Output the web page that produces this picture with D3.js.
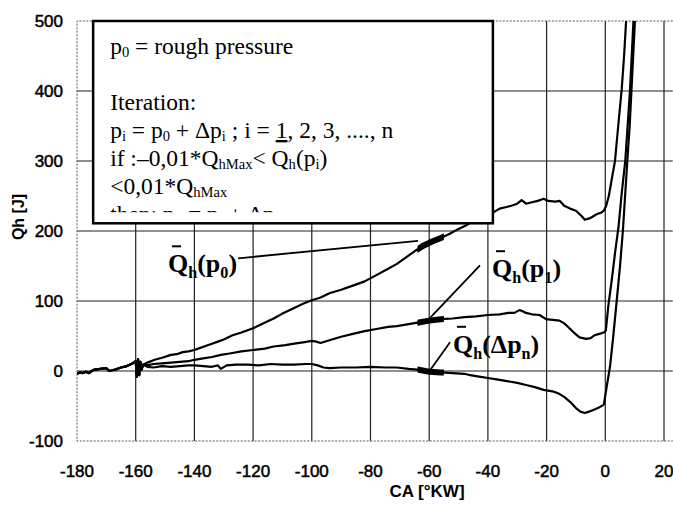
<!DOCTYPE html>
<html>
<head>
<meta charset="utf-8">
<script src="https://cdnjs.cloudflare.com/ajax/libs/d3/7.8.5/d3.min.js"></script>
<style>
body { margin: 0; background: #fff; }
</style>
</head>
<body>
<svg id="viz"></svg>
<script>
var width = 673;
var height = 505;

var xTicks = [-180, -160, -140, -120, -100, -80, -60, -40, -20, 0, 20];
var yTicks = [-100, 0, 100, 200, 300, 400, 500];

// all three curves share the noisy start up to about -157 deg
var startCa = [-180, -179, -178, -177, -176, -175, -174, -172, -170, -169, -168, -167, -165, -163, -161, -160, -159.6, -159.2, -158.8, -158.4, -158, -157.5];
var startQ  = [-4, -2, -3, -1, -3, 0, 2, 3, 4, 0, 1, 2, 5, 7, 11, 14, -8, 17, -6, 13, 2, 9];

// Qh(p0)
var caP0 = [-156, -153.5, -151, -148, -146, -144, -142, -140, -138, -136, -134, -132, -130, -127, -124, -120, -117, -113, -110, -106, -103, -100, -97, -94, -90, -86, -82, -78, -74, -71, -68, -65, -62, -59, -56, -53, -50, -47, -45, -42, -40, -38, -36, -34, -32, -30, -28.5, -27, -25, -23, -21, -19.5, -17, -15.5, -14, -12, -10, -8, -7, -5.5, -4.5, -3, -1.5, -0.5, 0.3, 1.2, 2.2, 3.3, 4.4, 5.6, 6.4, 7.1, 8];
var qP0  = [12, 16, 19, 23, 24, 27, 28, 30, 33, 36, 39, 42, 45, 51, 55, 61, 67, 75, 82, 90, 96, 101, 105, 111, 116, 122, 128, 137, 146, 153, 162, 171, 179, 185, 190, 196, 203, 209, 215, 219, 222, 227, 232, 234, 236, 239, 244, 239, 241, 243, 246, 243, 242, 243, 236, 232, 229, 221, 216, 218, 220, 224, 226, 229, 236, 250, 274, 300, 350, 403, 450, 501, 560];

// Qh(p1)
var caP1 = [-156, -154, -151, -148, -145, -142, -140, -137, -134, -131, -128, -124, -120, -116, -113, -109, -106, -103, -100, -98.5, -97, -94, -90, -86, -82, -78, -74, -71, -67, -64, -60, -56, -52, -48, -44, -40, -36, -33, -31, -29.2, -28, -27, -25, -22.4, -20.2, -18, -15.6, -14, -12.2, -10.5, -8.8, -6.5, -5, -3.7, -2, -0.5, 0.2, 1, 2.2, 3.3, 4.5, 5.6, 6.8, 7.6, 8.4, 9, 9.6, 10.4];
var qP1  = [8, 10, 11, 12, 13, 14, 16, 18, 20, 23, 25, 28, 30, 32, 35, 37, 39, 41, 43, 42, 40, 44, 49, 53, 57, 60, 63, 64, 67, 69, 72, 74, 75, 77, 78, 80, 81, 83, 83, 87, 85, 83, 81, 80, 74, 73, 72, 68, 61, 54, 48, 46, 47, 51, 53, 55, 58, 92, 130, 168, 206, 254, 300, 350, 400, 450, 500, 560];

// Qh(dp_n)
var caPn = [-156, -154, -151, -148, -145, -142, -140, -137, -134, -132, -131, -129, -126, -122, -118, -114, -110, -106, -102, -100, -98, -96, -94, -90, -85, -80, -75, -71, -67, -64, -60, -56, -52, -48, -46, -43, -40, -37, -34, -30, -27, -24, -21, -18, -16, -14, -12, -10, -8.5, -7, -5.5, -4.3, -2.5, -0.5, 0.5, 1.6, 2.7, 3.9, 5, 6, 7.5, 8.3, 8.9, 9.5, 10.1, 10.8];
var qPn  = [6, 5, 7, 6, 7, 8, 8, 7, 6, 8, 3, 8, 9, 9, 8, 10, 9, 9, 10, 10, 8, 5, 4, 5, 5, 6, 5, 5, 3, 2, -1, -2, -3, -4, -6, -8, -10, -12, -14, -17, -20, -23, -27, -29, -32, -37, -44, -53, -58, -60, -58, -56, -53, -48, -22, 6, 49, 101, 149, 201, 300, 350, 400, 450, 500, 560];

// thick marks on the curves around -60 deg
var markFrom = -64, markTo = -55;

// annotation labels: [parts, ca, q]; pointer lines: [ca1, q1, ca2, q2]
var labelParts = [
    [["Q"], ["h", 1], ["(p"], ["0", 1], [")"]],
    [["Q"], ["h", 1], ["(p"], ["1", 1], [")"]],
    [["Q"], ["h", 1], ["(\u0394p"], ["n", 1], [")"]]
];
var labelCa = [-149, -38.6, -51.9];
var labelQ = [141, 134, 26];
var pointers = [
    [-125.1, 161, -63.8, 186],
    [-42.7, 151, -59.7, 76],
    [-52.9, 41, -59.7, 1]
];

// text box
var boxLines = [
    [["p"], ["0", 1], [" = rough pressure"]],
    [],
    [["Iteration:"]],
    [["p"], ["i", 1], [" = p"], ["0", 1], [" + \u0394p"], ["i", 1], [" ; i = "], ["1", 0, 1], [", 2, 3, ...., n"]],
    [["if :\u20130,01*Q"], ["hMax", 1], ["< Q"], ["h", 1], ["(p"], ["i", 1], [")"]],
    [["<0,01*Q"], ["hMax", 1]],
    [["then: p"], ["n", 1], [" = p"], ["i", 1], [" + \u0394p"], ["i", 1]]
];

var svg = d3.select("#viz").attr("width", width).attr("height", height)
    .style("font-family", "'Liberation Sans', Arial, sans-serif");

var x = d3.scaleLinear().domain([-180, 20]).range([77, 664]);
var y = d3.scaleLinear().domain([-100, 500]).range([441, 21]);
var xEnd = 23;   // plot area runs a little past the last tick

// rich text with subscripts
function richText(sel, px, py, parts, size, weight, drop) {
    var t = sel.append("text").attr("x", px).attr("y", py)
        .attr("font-size", size).attr("font-weight", weight || "normal");
    var shift = 0;
    parts.forEach(function(p) {
        var s = t.append("tspan").text(p[0]);
        var want = p[1] ? size * drop : 0;
        if (want != shift) { s.attr("dy", want - shift); shift = want; }
        if (p[1]) s.attr("font-size", size * 0.62);
        if (p[2]) s.attr("text-decoration", "underline");
    });
    return t;
}

// grid
var grid = svg.append("g");
grid.selectAll("line.v").data(xTicks.slice(1)).enter().append("line")
    .attr("x1", function(d) { return x(d); }).attr("x2", function(d) { return x(d); })
    .attr("y1", y(500)).attr("y2", y(-100))
    .attr("stroke", "#222").attr("stroke-width", 1.2);
grid.selectAll("line.h").data(yTicks.slice(1, -1)).enter().append("line")
    .attr("x1", x(-180)).attr("x2", x(xEnd))
    .attr("y1", function(d) { return y(d); }).attr("y2", function(d) { return y(d); })
    .attr("stroke", "#222").attr("stroke-width", 1.2);
// dotted frame
grid.append("path")
    .attr("d", "M" + x(xEnd) + "," + y(500) + "H" + x(-180) + "V" + y(-100) + "H" + x(xEnd))
    .attr("fill", "none").attr("stroke", "#555").attr("stroke-dasharray", "2,1.5");

// tick labels
svg.append("g").selectAll("text").data(yTicks).enter().append("text")
    .attr("x", 63).attr("y", function(d) { return y(d); }).attr("dy", "0.36em")
    .attr("text-anchor", "end").attr("font-size", 17)
    .attr("stroke", "#000").attr("stroke-width", 0.5)
    .text(function(d) { return d; });
svg.append("g").selectAll("text").data(xTicks).enter().append("text")
    .attr("x", function(d) { return x(d); }).attr("y", 477)
    .attr("text-anchor", "middle").attr("font-size", 17)
    .attr("stroke", "#000").attr("stroke-width", 0.5)
    .text(function(d) { return d; });

svg.append("text").attr("x", 427).attr("y", 497).attr("text-anchor", "middle")
    .attr("font-size", 17).attr("font-weight", "bold").text("CA [\u00b0KW]");
svg.append("text").attr("transform", "translate(24,217) rotate(-90)")
    .attr("text-anchor", "middle").attr("font-size", 16).attr("font-weight", "bold")
    .text("Qh [J]");

// curves
function series(ca, q) {
    var qs = startQ.concat(q);
    return startCa.concat(ca).map(function(d, i) { return [d, qs[i]]; });
}
var curves = [series(caP0, qP0), series(caP1, qP1), series(caPn, qPn)];

var defs = svg.append("defs");
defs.append("clipPath").attr("id", "plotClip").append("rect")
    .attr("x", x(-180)).attr("y", y(500)).attr("width", x(xEnd) - x(-180)).attr("height", y(-100) - y(500));
defs.append("clipPath").attr("id", "markClip").append("rect")
    .attr("x", x(markFrom)).attr("y", 0).attr("width", x(markTo) - x(markFrom)).attr("height", height);

var line = d3.line().x(function(d) { return x(d[0]); }).y(function(d) { return y(d[1]); });

svg.append("g").attr("clip-path", "url(#plotClip)")
    .selectAll("path").data(curves).enter().append("path")
    .attr("d", line).attr("fill", "none").attr("stroke", "#000")
    .attr("stroke-width", 2.2).attr("stroke-linejoin", "round");
svg.append("g").attr("clip-path", "url(#markClip)")
    .selectAll("path").data(curves).enter().append("path")
    .attr("d", line).attr("fill", "none").attr("stroke", "#000").attr("stroke-width", 6);

// text box
var boxL = -174.5, boxR = -38.3, boxB = 211;
svg.append("rect").attr("x", x(boxL)).attr("y", y(500))
    .attr("width", x(boxR) - x(boxL)).attr("height", y(boxB) - y(500))
    .attr("fill", "#fff").attr("stroke", "#000").attr("stroke-width", 2.5);
defs.append("clipPath").attr("id", "boxClip").append("rect")
    .attr("x", x(boxL)).attr("y", y(500)).attr("width", x(boxR) - x(boxL)).attr("height", y(boxB) - y(500) - 11);
var boxText = svg.append("g").attr("clip-path", "url(#boxClip)")
    .style("font-family", "'Liberation Serif', 'Times New Roman', serif");
var baselines = [54, 82, 110, 138, 166, 194, 222];
boxLines.forEach(function(parts, i) {
    if (parts.length) richText(boxText, x(boxL) + 17, baselines[i], parts, 23.5, "normal", 0.14);
});

// pointers and labels
svg.append("g").selectAll("line").data(pointers).enter().append("line")
    .attr("x1", function(d) { return x(d[0]); }).attr("y1", function(d) { return y(d[1]); })
    .attr("x2", function(d) { return x(d[2]); }).attr("y2", function(d) { return y(d[3]); })
    .attr("stroke", "#000").attr("stroke-width", 1.8);

var lab = svg.append("g").style("font-family", "'Liberation Serif', 'Times New Roman', serif");
labelParts.forEach(function(parts, i) {
    var lx = x(labelCa[i]), ly = y(labelQ[i]);
    richText(lab, lx, ly, parts, 26, "bold", 0.22);
    // bar over the Q
    lab.append("line").attr("x1", lx + 4).attr("x2", lx + 13)
        .attr("y1", ly - 26).attr("y2", ly - 26)
        .attr("stroke", "#000").attr("stroke-width", 2);
});
</script>
</body>
</html>
